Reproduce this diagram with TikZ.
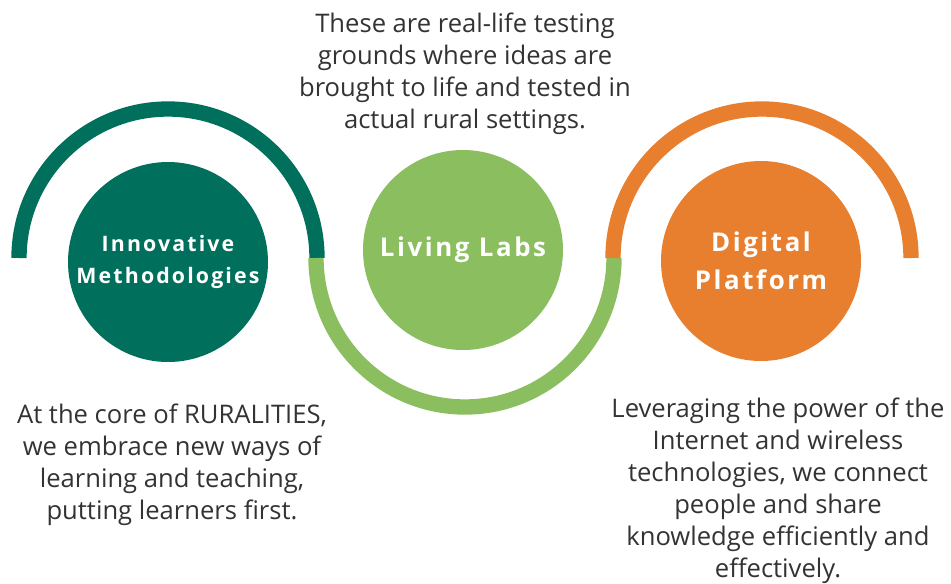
\documentclass[tikz,border=0pt]{standalone}
\usepackage{fontspec}
\setmainfont{Open Sans}
\newfontfamily\circfont{Open Sans}[LetterSpace=10.0]

\definecolor{tealdark}{RGB}{0,112,92}
\definecolor{leafgreen}{RGB}{139,190,95}
\definecolor{carrot}{RGB}{231,127,46}
\definecolor{bodygrey}{RGB}{51,51,51}

\tikzset{every picture/.style={line width=0.75pt}}
\tikzset{
  ring/.style={line width=11.5pt, line cap=butt},
  disc/.style={circle, minimum size=150pt, inner sep=0pt, text=white, align=center},
  blurb/.style={text=bodygrey, align=center, font=\fontsize{19.2}{24}\selectfont}
}

\begin{document}
\begin{tikzpicture}[x=0.75pt,y=0.75pt,yscale=-1,xscale=1]
\useasboundingbox (0,0) rectangle (951,583);

% arc centres
\coordinate (cA) at (168,258);
\coordinate (cB) at (465,258);
\coordinate (cC) at (762,258);

%Arc: teal, upper half
\draw [ring, tealdark] ([xshift=-149*0.75pt]cA) arc (180:360:149);
%Arc: green, lower half
\draw [ring, leafgreen] ([xshift=-149*0.75pt]cB) arc (180:0:149);
%Arc: orange, upper half
\draw [ring, carrot] ([xshift=-149*0.75pt]cC) arc (180:360:149);

%Shape: Circles
\node [disc, fill=tealdark, font=\circfont\bfseries\fontsize{16}{24}\selectfont] (methods) at (168,262) {Innovative\\Methodologies};
\node [disc, fill=leafgreen, font=\circfont\bfseries\fontsize{19.4}{26}\selectfont] (labs) at (463,250) {Living Labs};
\node [disc, fill=carrot, font=\circfont\bfseries\fontsize{19.4}{28.5}\selectfont] (platform) at (761,261) {Digital\\Platform};

% Text Node
\node [blurb] (labsnote) at (465,74) {These are real-life testing\\grounds where ideas are\\brought to life and tested in\\actual rural settings.};
% Text Node
\node [blurb] (methodsnote) at (172,465) {At the core of RURALITIES,\\we embrace new ways of\\learning and teaching,\\putting learners first.};
% Text Node
\node [blurb] (platformnote) at (778,491) {Leveraging the power of the\\Internet and wireless\\technologies, we connect\\people and share\\knowledge efficiently and\\effectively.};

\end{tikzpicture}
\end{document}
